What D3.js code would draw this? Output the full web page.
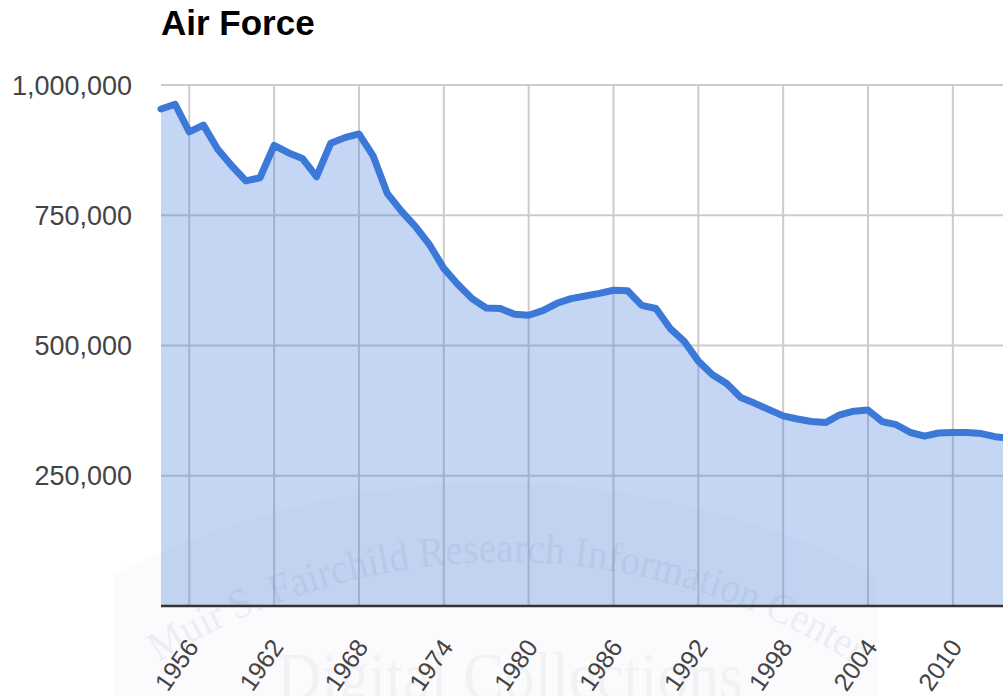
<!DOCTYPE html>
<html>
<head>
<meta charset="utf-8">
<script src="https://cdn.jsdelivr.net/npm/d3@7"></script>
<style>
  html, body { margin: 0; padding: 0; background: #fff; overflow: hidden; }
  svg { display: block; }
</style>
</head>
<body>
<div id="chart"></div>
<script>
// ---- Data ----
const years = [1954,1955,1956,1957,1958,1959,1960,1961,1962,1963,1964,1965,1966,1967,1968,1969,
  1970,1971,1972,1973,1974,1975,1976,1977,1978,1979,1980,1981,1982,1983,1984,1985,1986,1987,1988,1989,
  1990,1991,1992,1993,1994,1995,1996,1997,1998,1999,2000,2001,2002,2003,2004,2005,2006,2007,2008,2009,
  2010,2011,2012,2013,2014];
const personnel = [954000,963000,910000,923000,877000,845000,816000,822000,884000,870000,859000,824000,888000,899000,906000,864000,
  792000,758000,728000,693000,648000,617000,590000,572000,571000,560000,558000,567000,581000,590000,595000,600000,606000,605000,577000,571000,
  533000,508000,470000,444000,427000,400000,389000,377000,365000,359000,354000,352000,367000,374000,376000,354000,348000,333000,326000,332000,
  333000,333000,331000,325000,322000];
const xTickYears = [1956,1962,1968,1974,1980,1986,1992,1998,2004,2010];
const yTickValues = [250000,500000,750000,1000000];
const title = "Air Force";

// ---- Layout ----
const W = 1003, H = 696;
const plotLeft = 161, plotTop = 85, plotBottom = 606;
const pxPerYear = 14.14;

const svg = d3.select("#chart").append("svg").attr("width", W).attr("height", H);

const x = d3.scaleLinear().domain([1954, 2014]).range([plotLeft, plotLeft + 60 * pxPerYear]);
const y = d3.scaleLinear().domain([0, 1000000]).range([plotBottom, plotTop]);
const plotRight = W + 10;

const data = years.map((yr, i) => ({ yr, v: personnel[i] }));

// watermark arch (very faint)
svg.append("path")
  .attr("d", "M113,700 L113,575 A839,839 0 0 1 877,575 L877,700 Z")
  .attr("fill", "#8899bb").attr("opacity", 0.035);

// gridlines
const grid = svg.append("g");
grid.selectAll("line.h").data(yTickValues).join("line")
  .attr("x1", plotLeft).attr("x2", plotRight)
  .attr("y1", d => y(d)).attr("y2", d => y(d))
  .attr("stroke", "#cccccc").attr("stroke-width", 2);
grid.selectAll("line.v").data(xTickYears).join("line")
  .attr("x1", d => x(d)).attr("x2", d => x(d))
  .attr("y1", plotTop).attr("y2", plotBottom)
  .attr("stroke", "#cccccc").attr("stroke-width", 2);

// area
const area = d3.area().x(d => x(d.yr)).y0(y(0)).y1(d => y(d.v));
svg.append("path").datum(data).attr("d", area)
  .attr("fill", "#3c78d8").attr("fill-opacity", 0.3);

// line
const line = d3.line().x(d => x(d.yr)).y(d => y(d.v));
svg.append("path").datum(data).attr("d", line)
  .attr("fill", "none").attr("stroke", "#3c78d8").attr("stroke-width", 7)
  .attr("stroke-linejoin", "round").attr("stroke-linecap", "round");

// baseline
svg.append("line")
  .attr("x1", plotLeft).attr("x2", plotRight)
  .attr("y1", y(0)).attr("y2", y(0))
  .attr("stroke", "#333333").attr("stroke-width", 2.5);

// y labels
const fmt = d3.format(",");
svg.append("g").selectAll("text").data(yTickValues).join("text")
  .attr("x", 132).attr("y", d => y(d)).attr("dy", "0.36em")
  .attr("text-anchor", "end")
  .attr("font-family", "Liberation Sans, Arial, sans-serif")
  .attr("font-size", 27).attr("fill", "#444444")
  .text(d => fmt(d));

// x labels
svg.append("g").selectAll("text").data(xTickYears).join("text")
  .attr("transform", d => `translate(${x(d) + 3},${642}) rotate(-55)`)
  .attr("dy", "0.36em")
  .attr("text-anchor", "end")
  .attr("font-family", "Liberation Sans, Arial, sans-serif")
  .attr("font-size", 25).attr("fill", "#444444")
  .text(d => d);

// title
svg.append("text")
  .attr("x", 161).attr("y", 35)
  .attr("font-family", "Liberation Sans, Arial, sans-serif")
  .attr("font-weight", "bold").attr("font-size", 35).attr("fill", "#000")
  .text(title);

// watermark text
const defs = svg.append("defs");
const cx = 505, cy = 1210, r = 648;
const a0 = Math.atan2(665 - cy, 160 - cx), a1 = Math.atan2(665 - cy, 855 - cx);
defs.append("path").attr("id", "wmArc")
  .attr("d", `M${cx + r * Math.cos(a0)},${cy + r * Math.sin(a0)} A${r},${r} 0 0 1 ${cx + r * Math.cos(a1)},${cy + r * Math.sin(a1)}`);
svg.append("text")
  .attr("font-family", "Liberation Serif, Times New Roman, serif")
  .attr("font-size", 42).attr("fill", "#4a5a7a").attr("opacity", 0.08)
  .append("textPath").attr("href", "#wmArc")
  .attr("textLength", r * (a1 - a0)).attr("lengthAdjust", "spacingAndGlyphs")
  .text("Muir S. Fairchild Research Information Center");
svg.append("text")
  .attr("x", 277).attr("y", 699)
  .attr("font-family", "Liberation Serif, Times New Roman, serif")
  .attr("font-size", 68).attr("fill", "#000").attr("opacity", 0.03)
  .attr("textLength", 466).attr("lengthAdjust", "spacingAndGlyphs")
  .text("Digital Collections");
</script>
</body>
</html>
